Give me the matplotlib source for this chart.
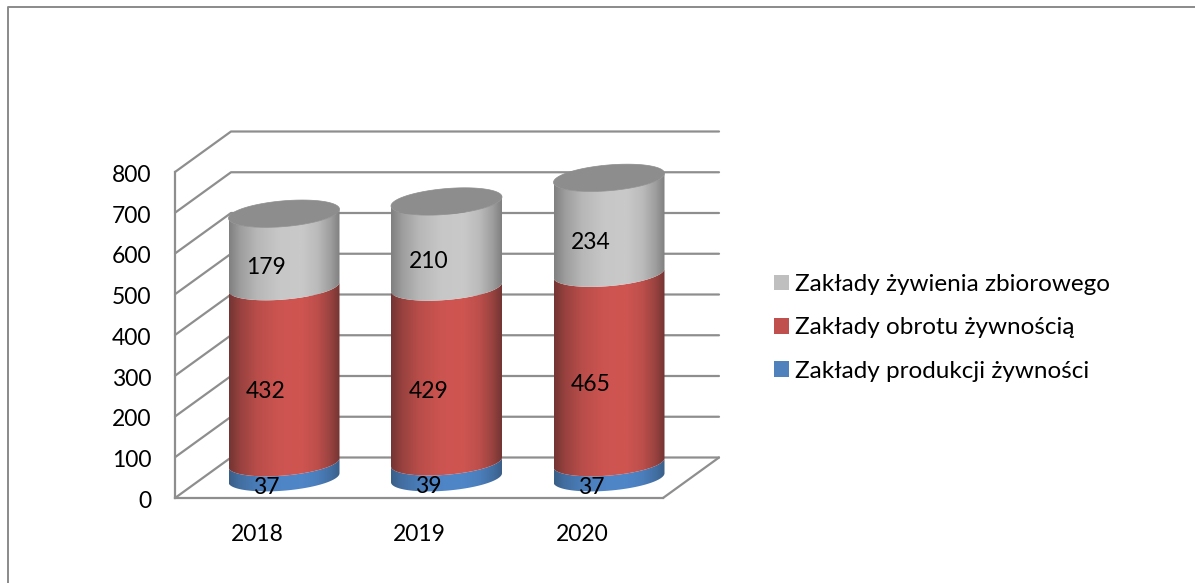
import numpy as np
import matplotlib
matplotlib.use("Agg")
import matplotlib.pyplot as plt
from matplotlib.patches import PathPatch, Patch
from matplotlib.path import Path
from matplotlib.colors import LinearSegmentedColormap
from matplotlib.transforms import ScaledTranslation

years = ["2018", "2019", "2020"]
produkcja = [37, 39, 37]
obrot = [432, 429, 465]
zywienie = [179, 210, 234]
series_names = ["Zakłady produkcji żywności", "Zakłady obrotu żywnością", "Zakłady żywienia zbiorowego"]
series_values = [produkcja, obrot, zywienie]
legend_colors = ["#4f81bd", "#c0504d", "#bfbfbf"]
ramps = [("#3a5f88", "#4f86c8"), ("#733533", "#cf5551"), ("#808080", "#c9c9c9")]
yticks = list(range(0, 801, 100))

W, H = 1195, 583
PX_PER_CAT = 162.5
PX_PER_VAL = 0.4075
X0_PX, Y0_PX = 257, 498

plt.rcParams["font.family"] = ["Lato", "DejaVu Sans"]
fig = plt.figure(figsize=(W / 100, H / 100), dpi=100, facecolor="white")
ax = fig.add_axes([0, 0, 1, 1])
ax.set_facecolor("none")
xlim = (-X0_PX / PX_PER_CAT, (W - X0_PX) / PX_PER_CAT)
ylim = ((Y0_PX - H) / PX_PER_VAL, Y0_PX / PX_PER_VAL)

# depth and frame, in axis units
dx = 56 / PX_PER_CAT
dy = 40.5 / PX_PER_VAL
x_left = (175 - X0_PX) / PX_PER_CAT
x_right = (663 - X0_PX) / PX_PER_CAT
grid = dict(color="#8e8e8e", lw=1.6, solid_capstyle="round", zorder=1)

for v in yticks:
    ax.plot([x_left, x_left + dx, x_right + dx], [v, v + dy, v + dy], **grid)
ax.plot([x_right, x_right + dx], [0, dy], **grid)

# cylinders
half_w = 55.5 / PX_PER_CAT
S = 4.5 / PX_PER_VAL
B = 12.9 / PX_PER_VAL
grad_pos = np.array([0, 0.1, 0.25, 0.45, 0.65, 0.8, 0.92, 1])
grad_val = np.array([0, 0.4, 0.75, 0.97, 1, 0.8, 0.4, 0])


def arc(cx, cy, t):
    return np.column_stack([cx + half_w * np.cos(t), cy + S * np.cos(t) + B * np.sin(t)])


def side_path(cx, low, high):
    t = np.linspace(np.pi, 2 * np.pi, 60)
    pts = np.vstack([arc(cx, low, t), arc(cx, high, t[::-1])])
    return Path(np.vstack([pts, pts[:1]]))


for i in range(len(years)):
    cx = i + dx / 2 - 1 / PX_PER_CAT
    base = dy / 2
    cum = 0
    for values, (dark, light) in zip(series_values, ramps):
        low = base + cum
        cum += values[i]
        high = base + cum
        path = side_path(cx, low, high)
        cmap = LinearSegmentedColormap.from_list("c", [dark, light])
        xs = np.linspace(0, 1, 220)
        img = np.interp(xs, grad_pos, grad_val)[None, :]
        im = ax.imshow(img, cmap=cmap, vmin=0, vmax=1, aspect="auto", zorder=3,
                       extent=(cx - half_w, cx + half_w, low - 60, high + 60))
        im.set_clip_path(PathPatch(path, transform=ax.transData))
    t = np.linspace(0, 2 * np.pi, 120)
    ax.add_patch(PathPatch(Path(arc(cx, base + cum, t)), fc="#8d8d8d", ec="#8d8d8d", lw=0.5, zorder=4))
    # data labels
    cum = 0
    for values in series_values:
        ax.text(i + 9 / PX_PER_CAT, cum + values[i] / 2 + 8, str(values[i]), ha="center", va="center",
                fontsize=16.5, color="black", zorder=6)
        cum += values[i]

ax.set_xlim(xlim)
ax.set_ylim(ylim)

# axes
for s in ["top", "right"]:
    ax.spines[s].set_visible(False)
ax.spines["left"].set_position(("data", x_left))
ax.spines["left"].set_bounds(0, 800)
ax.spines["bottom"].set_position(("data", 0))
ax.spines["bottom"].set_bounds(x_left, x_right)
for s in ["left", "bottom"]:
    ax.spines[s].set_color("#8e8e8e")
    ax.spines[s].set_linewidth(1.6)
ax.set_xticks(range(len(years)), years)
ax.set_yticks(yticks, [str(v) for v in yticks])
ax.tick_params(axis="both", length=0, labelsize=16.5, colors="black")
ax.tick_params(axis="y", pad=17)
ax.tick_params(axis="x", pad=19)
shift = ScaledTranslation(0, -1.5 / 100, fig.dpi_scale_trans)
for lab in ax.get_yticklabels():
    lab.set_transform(lab.get_transform() + shift)

# legend
handles = [Patch(fc=c, ec="none") for c in legend_colors[::-1]]
leg = ax.legend(handles, series_names[::-1], loc="center left",
                bbox_to_anchor=(773.5 / W, 1 - 328 / H), frameon=False, fontsize=17.5,
                handlelength=0.62, handleheight=0.62, handletextpad=0.26,
                labelspacing=0.92, borderpad=0, borderaxespad=0)

# outer picture frame
ax.plot([7.5 / W, 7.5 / W, 1], [0, 1 - 6.5 / H, 1 - 6.5 / H], transform=ax.transAxes,
        color="#8a8a8a", lw=1.4, clip_on=False, zorder=0)

fig.savefig("out.png", dpi=100)
